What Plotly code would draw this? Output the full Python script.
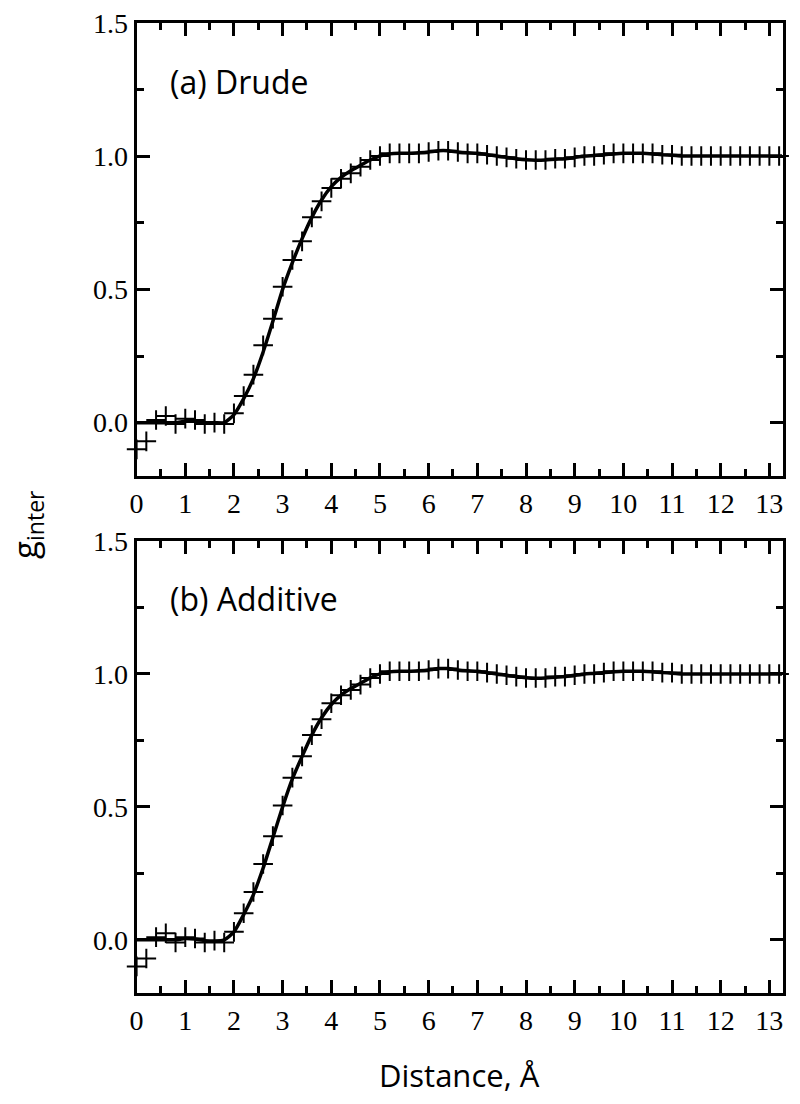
import plotly.graph_objects as go

# distance grid of the plus markers (Å)
r_pts = [0.0, 0.2, 0.4, 0.6, 0.8, 1.0, 1.2, 1.4, 1.6, 1.8,
         2.0, 2.2, 2.4, 2.6, 2.8, 3.0, 3.2, 3.4, 3.6, 3.8,
         4.0, 4.2, 4.4, 4.6, 4.8, 5.0, 5.2, 5.4, 5.6, 5.8,
         6.0, 6.2, 6.4, 6.6, 6.8, 7.0, 7.2, 7.4, 7.6, 7.8,
         8.0, 8.2, 8.4, 8.6, 8.8, 9.0, 9.2, 9.4, 9.6, 9.8,
         10.0, 10.2, 10.4, 10.6, 10.8, 11.0, 11.2, 11.4, 11.6, 11.8,
         12.0, 12.2, 12.4, 12.6, 12.8, 13.0, 13.2]

# distance grid of the solid curve
r_line = r_pts + [13.26]

drude_pts = [-0.10, -0.07, 0.01, 0.025, -0.005, 0.015, 0.01, -0.005, 0.0, -0.005,
             0.035, 0.10, 0.18, 0.29, 0.39, 0.51, 0.61, 0.68, 0.77, 0.83,
             0.88, 0.915, 0.935, 0.96, 0.985, 1.0, 1.01, 1.01, 1.01, 1.01,
             1.015, 1.02, 1.02, 1.015, 1.01, 1.01, 1.005, 1.0, 0.995, 0.99,
             0.985, 0.985, 0.985, 0.99, 0.99, 0.995, 1.0, 1.0, 1.005, 1.01,
             1.01, 1.01, 1.01, 1.01, 1.005, 1.005, 1.0, 1.0, 1.0, 1.0,
             1.0, 1.0, 1.0, 1.0, 1.0, 1.0, 1.0]

drude_line = [0.0, 0.0, 0.0, 0.0, 0.0, 0.005, 0.005, 0.0, 0.0, 0.0,
              0.03, 0.09, 0.165, 0.265, 0.38, 0.50, 0.60, 0.69, 0.77, 0.835,
              0.885, 0.92, 0.945, 0.965, 0.985, 1.0, 1.008, 1.01, 1.01, 1.012,
              1.015, 1.02, 1.02, 1.015, 1.012, 1.01, 1.005, 1.0, 0.995, 0.99,
              0.986, 0.984, 0.985, 0.988, 0.99, 0.995, 1.0, 1.002, 1.005, 1.008,
              1.01, 1.01, 1.01, 1.008, 1.005, 1.003, 1.0, 1.0, 1.0, 1.0,
              1.0, 1.0, 1.0, 1.0, 1.0, 1.0, 1.0, 1.0]

additive_pts = [-0.10, -0.07, 0.01, 0.025, -0.01, 0.01, 0.005, -0.01, -0.003, -0.01,
                0.03, 0.10, 0.18, 0.285, 0.39, 0.505, 0.61, 0.69, 0.77, 0.83,
                0.89, 0.92, 0.94, 0.96, 0.985, 1.0, 1.01, 1.01, 1.01, 1.01,
                1.015, 1.02, 1.02, 1.015, 1.01, 1.01, 1.005, 1.0, 0.995, 0.99,
                0.985, 0.985, 0.985, 0.99, 0.99, 0.995, 1.0, 1.0, 1.005, 1.01,
                1.01, 1.01, 1.01, 1.01, 1.005, 1.005, 1.0, 1.0, 1.0, 1.0,
                1.0, 1.0, 1.0, 1.0, 1.0, 1.0, 1.0]

additive_line = [0.0, 0.0, 0.0, 0.0, 0.0, 0.005, 0.003, -0.003, -0.005, 0.0,
                 0.03, 0.095, 0.17, 0.27, 0.385, 0.50, 0.605, 0.69, 0.77, 0.835,
                 0.885, 0.92, 0.945, 0.965, 0.985, 1.0, 1.008, 1.01, 1.01, 1.012,
                 1.015, 1.02, 1.02, 1.015, 1.012, 1.01, 1.005, 1.0, 0.995, 0.99,
                 0.986, 0.984, 0.985, 0.988, 0.99, 0.995, 1.0, 1.002, 1.005, 1.008,
                 1.01, 1.01, 1.01, 1.008, 1.005, 1.003, 1.0, 1.0, 1.0, 1.0,
                 1.0, 1.0, 1.0, 1.0, 1.0, 1.0, 1.0, 1.0]

panel_labels = ["(a) Drude", "(b) Additive"]

SERIF = "Liberation Serif"
SANS = "Open Sans"

fig = go.Figure()

panels = [("x", "y", drude_line, drude_pts), ("x2", "y2", additive_line, additive_pts)]
for xa, ya, line_vals, pt_vals in panels:
    fig.add_trace(go.Scatter(
        x=r_line, y=line_vals, xaxis=xa, yaxis=ya, mode="lines",
        line=dict(color="black", width=3.5, shape="spline", smoothing=0.6),
        showlegend=False,
    ))
    fig.add_trace(go.Scatter(
        x=r_pts, y=pt_vals, xaxis=xa, yaxis=ya, mode="markers", cliponaxis=False,
        marker=dict(symbol="cross-thin", size=14, line=dict(color="black", width=2)),
        showlegend=False,
    ))

xax = dict(
    range=[0, 13.28], tick0=0, dtick=1, ticks="inside", ticklen=13, tickwidth=3,
    tickcolor="black", showline=True, linewidth=3, linecolor="black", mirror="allticks",
    minor=dict(tick0=0, dtick=0.5, ticks="inside", ticklen=7, tickwidth=3, tickcolor="black"),
    showgrid=False, zeroline=False, automargin=False,
    tickfont=dict(family=SERIF, size=28, color="black"),
)
yax = dict(
    range=[-0.2, 1.5], tick0=0, dtick=0.5, tickformat=".1f", ticks="inside", ticklen=13,
    tickwidth=3, tickcolor="black", showline=True, linewidth=3, linecolor="black",
    mirror="allticks", automargin=False,
    minor=dict(tick0=0, dtick=0.25, ticks="inside", ticklen=7, tickwidth=3, tickcolor="black"),
    showgrid=False, zeroline=False,
    tickfont=dict(family=SERIF, size=28, color="black"),
)

xdom = [136.6 / 800, 783 / 800]
fig.update_layout(
    width=800, height=1104,
    margin=dict(l=0, r=0, t=0, b=0, autoexpand=False),
    paper_bgcolor="white", plot_bgcolor="white",
    xaxis=dict(xax, domain=xdom, anchor="y"),
    yaxis=dict(yax, domain=[1 - 476 / 1104, 1 - 22.7 / 1104], anchor="x"),
    xaxis2=dict(xax, domain=xdom, anchor="y2"),
    yaxis2=dict(yax, domain=[1 - 993 / 1104, 1 - 541 / 1104], anchor="x2"),
)

fig.add_annotation(text=panel_labels[0], x=168 / 800, y=1 - 81 / 1104, xref="paper", yref="paper",
                   xanchor="left", yanchor="middle", showarrow=False,
                   font=dict(family=SANS, size=32, color="black"))
fig.add_annotation(text=panel_labels[1], x=168 / 800, y=1 - 598 / 1104, xref="paper", yref="paper",
                   xanchor="left", yanchor="middle", showarrow=False,
                   font=dict(family=SANS, size=32, color="black"))
fig.add_annotation(text="g<sub>inter</sub>", x=26 / 800, y=1 - 525 / 1104, xref="paper", yref="paper",
                   xanchor="center", yanchor="middle", textangle=-90, showarrow=False,
                   font=dict(family=SANS, size=33, color="black"))
fig.add_annotation(text="Distance, Å", x=460 / 800, y=1 - 1075 / 1104, xref="paper", yref="paper",
                   xanchor="center", yanchor="middle", showarrow=False,
                   font=dict(family=SANS, size=31, color="black"))

# drop the browser's default 8px body margin so the figure sits at the page origin
fig.write_html("out.html", config={"displayModeBar": False},
               post_script="document.body.style.margin='0';")
